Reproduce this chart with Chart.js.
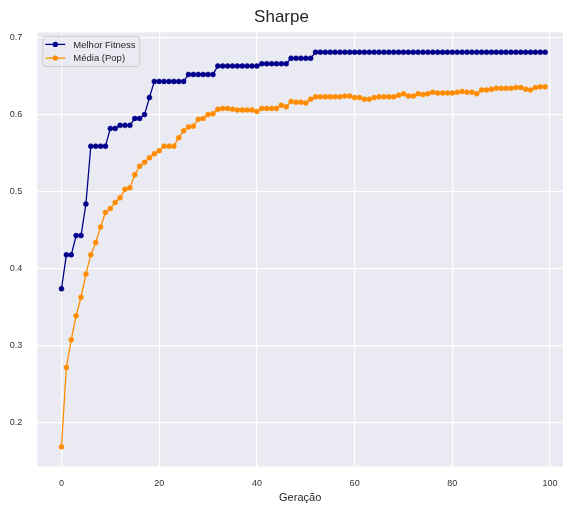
<!DOCTYPE html>
<html>
<head>
<meta charset="utf-8">
<script src="https://cdn.jsdelivr.net/npm/chart.js@4"></script>
<style>
  body { margin: 0; background: #ffffff; }
  #wrap { width: 563px; height: 510px; }
</style>
</head>
<body>
<div id="wrap"><canvas id="sharpe_Chart"></canvas></div>
<script>
// Gerações (eixo x)
const geracoes = Array.from({ length: 100 }, (_, i) => i);

// Melhor Fitness por geração
const melhorFitness = [
  0.374, 0.418, 0.418, 0.443, 0.443, 0.484, 0.559, 0.559, 0.559, 0.559,
  0.582, 0.582, 0.586, 0.586, 0.586, 0.595, 0.595, 0.600, 0.622, 0.643,
  0.643, 0.643, 0.643, 0.643, 0.643, 0.643, 0.652, 0.652, 0.652, 0.652,
  0.652, 0.652, 0.663, 0.663, 0.663, 0.663, 0.663, 0.663, 0.663, 0.663,
  0.663, 0.666, 0.666, 0.666, 0.666, 0.666, 0.666, 0.673, 0.673, 0.673,
  0.673, 0.673, 0.681, 0.681, 0.681, 0.681, 0.681, 0.681, 0.681, 0.681,
  0.681, 0.681, 0.681, 0.681, 0.681, 0.681, 0.681, 0.681, 0.681, 0.681,
  0.681, 0.681, 0.681, 0.681, 0.681, 0.681, 0.681, 0.681, 0.681, 0.681,
  0.681, 0.681, 0.681, 0.681, 0.681, 0.681, 0.681, 0.681, 0.681, 0.681,
  0.681, 0.681, 0.681, 0.681, 0.681, 0.681, 0.681, 0.681, 0.681, 0.681
];

// Média da população por geração
const mediaPop = [
  0.169, 0.272, 0.308, 0.339, 0.363, 0.393, 0.418, 0.434, 0.454, 0.473,
  0.478, 0.486, 0.492, 0.503, 0.505, 0.522, 0.533, 0.538, 0.544, 0.549,
  0.553, 0.559, 0.559, 0.559, 0.570, 0.579, 0.584, 0.585, 0.594, 0.595,
  0.600, 0.601, 0.607, 0.608, 0.608, 0.607, 0.606, 0.606, 0.606, 0.606,
  0.604, 0.608, 0.608, 0.608, 0.608, 0.612, 0.610, 0.617, 0.616, 0.616,
  0.615, 0.620, 0.623, 0.623, 0.623, 0.623, 0.623, 0.623, 0.624, 0.624,
  0.622, 0.622, 0.620, 0.620, 0.622, 0.623, 0.623, 0.623, 0.623, 0.625,
  0.627, 0.624, 0.624, 0.627, 0.626, 0.627, 0.629, 0.628, 0.628, 0.628,
  0.628, 0.629, 0.630, 0.629, 0.629, 0.627, 0.632, 0.632, 0.633, 0.634,
  0.634, 0.634, 0.634, 0.635, 0.635, 0.633, 0.632, 0.635, 0.636, 0.636
];

// Ticks
const xTicks = [0, 20, 40, 60, 80, 100];
const yTicks = [0.2, 0.3, 0.4, 0.5, 0.6, 0.7];

const fonte = "'Liberation Sans', Arial, sans-serif";
const corTexto = '#262626';

// Fundo estilo seaborn (darkgrid)
const fundoPlot = {
  id: 'fundoPlot',
  beforeDraw(chart) {
    const { ctx, chartArea } = chart;
    ctx.save();
    ctx.fillStyle = '#EAEAF2';
    ctx.fillRect(chartArea.left, chartArea.top, chartArea.right - chartArea.left, chartArea.bottom - chartArea.top);
    ctx.restore();
  }
};

// Legenda dentro da área do gráfico (canto superior esquerdo)
const legendaInterna = {
  id: 'legendaInterna',
  afterDatasetsDraw(chart) {
    const { ctx, chartArea } = chart;
    const x0 = chartArea.left + 5;
    const y0 = chartArea.top + 3.5;
    const w = 97, h = 30;
    ctx.save();
    ctx.fillStyle = 'rgba(234,234,242,0.8)';
    ctx.strokeStyle = '#cccccc';
    ctx.lineWidth = 1;
    ctx.beginPath();
    ctx.roundRect(x0 + 0.5, y0 + 0.5, w, h, 3);
    ctx.fill();
    ctx.stroke();
    ctx.font = '9.5px ' + fonte;
    ctx.textBaseline = 'middle';
    chart.data.datasets.forEach((ds, i) => {
      const y = y0 + 8.5 + i * 13.7;
      ctx.strokeStyle = ds.borderColor;
      ctx.lineWidth = 1.3;
      ctx.beginPath();
      ctx.moveTo(x0 + 3, y);
      ctx.lineTo(x0 + 23, y);
      ctx.stroke();
      ctx.fillStyle = ds.borderColor;
      ctx.beginPath();
      ctx.arc(x0 + 13, y, 2.7, 0, Math.PI * 2);
      ctx.fill();
      ctx.fillStyle = corTexto;
      ctx.fillText(ds.label, x0 + 31, y + 0.5);
    });
    ctx.restore();
  }
};

const ctx = document.querySelector('#sharpe_Chart');

new Chart(ctx, {
  type: 'line',
  data: {
    labels: geracoes,
    datasets: [{
      label: 'Melhor Fitness',
      data: melhorFitness,
      borderColor: '#00008B',
      backgroundColor: '#00008B',
      borderWidth: 1.3,
      pointRadius: 2.5,
      pointBorderWidth: 0.5,
      pointHoverRadius: 2.5,
      tension: 0
    }, {
      label: 'Média (Pop)',
      data: mediaPop,
      borderColor: '#FF8C00',
      backgroundColor: '#FF8C00',
      borderWidth: 1.3,
      pointRadius: 2.5,
      pointBorderWidth: 0.5,
      pointHoverRadius: 2.5,
      tension: 0
    }]
  },
  options: {
    responsive: true,
    maintainAspectRatio: false,
    animation: false,
    layout: { padding: 0, autoPadding: false },
    plugins: {
      legend: { display: false },
      tooltip: { enabled: false },
      title: {
        display: true,
        text: 'Sharpe',
        color: corTexto,
        font: { family: fonte, size: 17, weight: 'normal' },
        padding: { top: 7, bottom: 5 }
      }
    },
    scales: {
      x: {
        type: 'linear',
        min: -4.95,
        max: 102.65,
        afterBuildTicks: (scale) => { scale.ticks = xTicks.map(v => ({ value: v })); },
        afterFit: (scale) => {
          scale.height = 43.5;
          scale.paddingLeft = 0;
          scale.paddingRight = 0;
        },
        ticks: {
          color: '#333333',
          font: { family: fonte, size: 9 },
          padding: 12,
          maxRotation: 0,
          callback: (v) => String(v)
        },
        grid: { color: '#ffffff', lineWidth: 1.2, drawTicks: false },
        border: { display: false },
        title: {
          display: true,
          text: 'Geração',
          color: corTexto,
          font: { family: fonte, size: 11 },
          padding: { top: 0, bottom: 5 }
        }
      },
      y: {
        min: 0.1434,
        max: 0.7066,
        afterBuildTicks: (scale) => { scale.ticks = yTicks.map(v => ({ value: v })); },
        afterFit: (scale) => {
          scale.width = 37.3;
          scale.paddingTop = 0;
          scale.paddingBottom = 0;
        },
        ticks: {
          color: '#333333',
          font: { family: fonte, size: 9 },
          padding: 15,
          callback: (v) => v.toFixed(1)
        },
        grid: { color: '#ffffff', lineWidth: 1.2, drawTicks: false },
        border: { display: false }
      }
    }
  },
  plugins: [fundoPlot, legendaInterna]
});
</script>
</body>
</html>
